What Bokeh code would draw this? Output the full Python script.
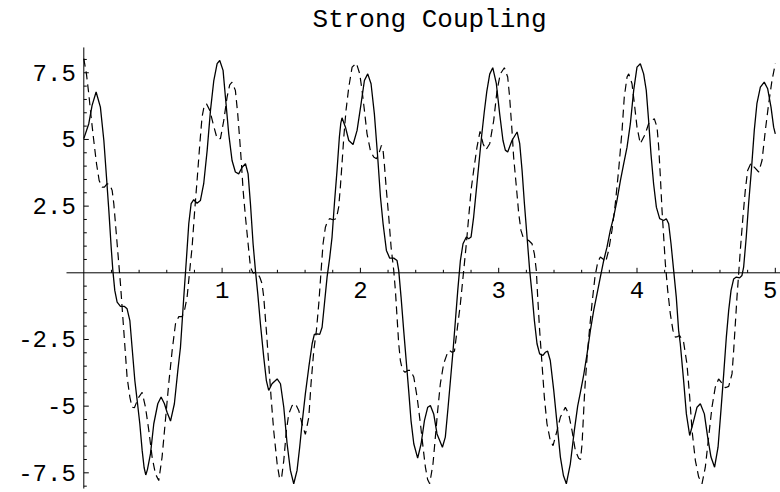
from bokeh.plotting import figure
from bokeh.models import Range1d, ColumnDataSource
from bokeh.core.properties import value
from bokeh.embed import file_html
from bokeh.resources import INLINE

# (t, amplitude) samples of the two coupled coordinates
solid_pts = [
    (0.000, 5.03), (0.036, 5.59), (0.060, 6.28), (0.089, 6.78), (0.120, 6.21), (0.145, 4.96),
    (0.164, 3.59), (0.181, 2.34), (0.198, 0.96), (0.210, 0.09), (0.224, -0.66), (0.241, -1.10),
    (0.265, -1.26), (0.294, -1.26), (0.313, -1.35), (0.333, -1.79), (0.349, -2.79), (0.369, -4.04),
    (0.386, -4.79), (0.405, -5.66), (0.422, -6.66), (0.436, -7.30), (0.448, -7.58), (0.460, -7.38),
    (0.482, -6.79), (0.506, -5.66), (0.535, -4.91), (0.559, -4.66), (0.583, -4.91), (0.602, -5.23),
    (0.627, -5.56), (0.655, -4.91), (0.680, -3.66), (0.699, -2.79), (0.723, -0.91), (0.743, 0.59),
    (0.759, 1.84), (0.776, 2.59), (0.795, 2.74), (0.819, 2.61), (0.843, 2.71), (0.867, 3.34),
    (0.892, 4.59), (0.916, 6.09), (0.940, 7.21), (0.964, 7.84), (0.983, 7.96), (1.007, 7.59),
    (1.024, 6.59), (1.048, 5.21), (1.072, 4.21), (1.096, 3.78), (1.120, 3.71), (1.145, 3.96),
    (1.169, 4.09), (1.188, 3.71), (1.205, 2.59), (1.224, 1.09), (1.241, 0.09), (1.258, -0.79),
    (1.277, -1.91), (1.301, -3.16), (1.320, -4.04), (1.337, -4.41), (1.361, -4.16), (1.398, -3.98),
    (1.422, -4.16), (1.446, -5.04), (1.470, -6.41), (1.494, -7.41), (1.518, -7.91), (1.542, -7.41),
    (1.561, -6.54), (1.578, -5.66), (1.602, -4.54), (1.627, -3.54), (1.651, -2.66), (1.667, -2.31),
    (1.687, -2.29), (1.706, -2.31), (1.723, -2.04), (1.740, -1.16), (1.759, -0.16), (1.778, 0.56),
    (1.795, 1.34), (1.812, 2.59), (1.831, 3.84), (1.848, 5.09), (1.858, 5.60), (1.867, 5.81),
    (1.892, 5.46), (1.916, 4.96), (1.947, 4.81), (1.976, 5.34), (2.005, 6.34), (2.029, 7.21),
    (2.053, 7.46), (2.077, 7.09), (2.101, 5.96), (2.125, 4.34), (2.145, 2.84), (2.164, 1.84),
    (2.188, 0.84), (2.212, 0.55), (2.241, 0.55), (2.265, 0.46), (2.277, 0.09), (2.294, -0.91),
    (2.313, -2.16), (2.333, -3.41), (2.349, -4.41), (2.366, -5.54), (2.386, -6.41), (2.414, -6.95),
    (2.439, -6.41), (2.463, -5.54), (2.487, -5.04), (2.506, -4.98), (2.530, -5.29), (2.554, -6.04),
    (2.593, -6.54), (2.614, -6.16), (2.634, -5.04), (2.651, -4.04), (2.670, -2.91), (2.687, -1.79),
    (2.704, -0.66), (2.723, 0.46), (2.742, 1.09), (2.766, 1.34), (2.783, 1.28), (2.800, 1.34),
    (2.819, 2.10), (2.838, 3.10), (2.857, 4.10), (2.876, 5.10), (2.895, 6.00), (2.914, 6.80),
    (2.935, 7.45), (2.957, 7.69), (2.983, 7.09), (3.007, 5.96), (3.031, 4.96), (3.048, 4.60),
    (3.065, 4.53), (3.096, 4.96), (3.133, 5.28), (3.152, 4.84), (3.169, 3.84), (3.186, 2.59),
    (3.205, 1.34), (3.224, 0.09), (3.241, -0.79), (3.258, -1.79), (3.277, -2.66), (3.296, -3.04),
    (3.320, -3.10), (3.337, -2.98), (3.354, -2.94), (3.373, -3.29), (3.398, -4.41), (3.422, -5.66),
    (3.446, -6.91), (3.468, -7.60), (3.489, -7.91), (3.518, -7.16), (3.547, -5.91), (3.571, -5.00),
    (3.590, -4.50), (3.614, -3.85), (3.639, -3.04), (3.663, -2.16), (3.687, -1.41), (3.711, -0.79),
    (3.735, -0.16), (3.759, 0.46), (3.783, 0.96), (3.807, 1.59), (3.831, 2.09), (3.855, 2.71),
    (3.880, 3.46), (3.904, 4.09), (3.928, 4.71), (3.952, 5.59), (3.976, 6.84), (4.000, 7.71),
    (4.024, 7.84), (4.048, 7.46), (4.067, 6.84), (4.084, 5.71), (4.101, 4.46), (4.120, 3.34),
    (4.140, 2.46), (4.164, 2.03), (4.193, 1.96), (4.212, 2.03), (4.229, 1.84), (4.246, 1.09),
    (4.265, 0.09), (4.284, -0.91), (4.301, -2.16), (4.313, -2.66), (4.337, -4.04), (4.357, -5.29),
    (4.381, -6.10), (4.410, -5.54), (4.434, -5.04), (4.458, -4.91), (4.487, -5.29), (4.511, -6.16),
    (4.535, -6.91), (4.561, -7.29), (4.586, -6.54), (4.607, -5.16), (4.627, -3.79), (4.646, -2.41),
    (4.663, -1.41), (4.680, -0.66), (4.699, -0.23), (4.718, -0.16), (4.742, -0.19), (4.759, -0.10),
    (4.771, 0.21), (4.790, 1.34), (4.807, 2.59), (4.827, 3.84), (4.848, 5.34), (4.867, 6.34),
    (4.892, 6.96), (4.920, 7.15), (4.945, 6.90), (4.969, 6.21), (4.988, 5.46), (5.000, 5.21),
]

dashed_pts = [
    (0.000, 8.03), (0.019, 7.46), (0.036, 6.71), (0.053, 5.84), (0.072, 4.96), (0.092, 4.09),
    (0.111, 3.46), (0.133, 3.21), (0.149, 3.21), (0.169, 3.34), (0.188, 3.31), (0.205, 3.09),
    (0.217, 2.59), (0.229, 1.84), (0.241, 1.09), (0.253, 0.34), (0.265, -0.41), (0.277, -1.29),
    (0.289, -2.16), (0.301, -3.04), (0.313, -3.91), (0.333, -4.66), (0.349, -5.04), (0.366, -5.06),
    (0.382, -4.85), (0.398, -4.66), (0.422, -4.48), (0.446, -5.04), (0.470, -5.91), (0.494, -6.91),
    (0.518, -7.54), (0.542, -7.79), (0.566, -6.91), (0.590, -5.54), (0.614, -4.16), (0.639, -2.91),
    (0.663, -1.91), (0.687, -1.64), (0.711, -1.64), (0.728, -1.41), (0.747, -0.91), (0.766, 0.09),
    (0.783, 0.96), (0.800, 2.21), (0.819, 3.46), (0.839, 4.84), (0.855, 5.84), (0.870, 6.25),
    (0.887, 6.34), (0.911, 6.09), (0.935, 5.59), (0.964, 5.03), (0.988, 5.03), (1.012, 5.71),
    (1.036, 6.59), (1.055, 7.05), (1.072, 7.15), (1.096, 6.84), (1.113, 5.96), (1.128, 4.96),
    (1.140, 4.09), (1.152, 3.09), (1.169, 2.09), (1.188, 1.09), (1.205, 0.21), (1.224, -0.01),
    (1.248, 0.03), (1.272, -0.16), (1.289, -0.41), (1.301, -0.91), (1.320, -2.16), (1.337, -3.41),
    (1.354, -4.66), (1.373, -5.91), (1.398, -7.16), (1.414, -7.66), (1.429, -7.73), (1.446, -7.04),
    (1.465, -5.91), (1.482, -5.29), (1.506, -4.98), (1.530, -4.91), (1.554, -5.16), (1.578, -5.66),
    (1.602, -6.06), (1.627, -5.41), (1.643, -4.16), (1.663, -2.91), (1.682, -2.16), (1.699, -1.16),
    (1.716, 0.09), (1.730, 1.09), (1.747, 1.71), (1.764, 1.96), (1.778, 2.03), (1.802, 1.99),
    (1.826, 2.03), (1.843, 2.46), (1.855, 3.21), (1.867, 4.09), (1.880, 5.09), (1.896, 6.09),
    (1.916, 6.96), (1.940, 7.71), (1.971, 7.86), (1.995, 7.46), (2.012, 6.84), (2.029, 6.09),
    (2.048, 5.21), (2.072, 4.59), (2.096, 4.34), (2.116, 4.28), (2.133, 4.46), (2.152, 4.78),
    (2.164, 4.59), (2.173, 4.09), (2.188, 3.09), (2.205, 2.09), (2.222, 0.96), (2.241, 0.09),
    (2.253, -0.66), (2.265, -1.66), (2.277, -2.66), (2.289, -3.29), (2.304, -3.64), (2.323, -3.73),
    (2.342, -3.66), (2.361, -3.66), (2.386, -3.91), (2.410, -4.66), (2.434, -5.66), (2.453, -6.54),
    (2.470, -7.29), (2.486, -7.75), (2.501, -7.91), (2.525, -7.16), (2.542, -6.16), (2.559, -5.16),
    (2.578, -4.16), (2.602, -3.41), (2.627, -3.04), (2.643, -2.91), (2.663, -2.98), (2.680, -2.94),
    (2.699, -2.16), (2.723, -1.16), (2.747, 0.09), (2.766, 1.09), (2.783, 2.09), (2.800, 3.09),
    (2.819, 3.84), (2.843, 4.71), (2.865, 5.30), (2.887, 4.84), (2.908, 4.61), (2.935, 4.84),
    (2.964, 5.71), (2.988, 6.84), (3.012, 7.46), (3.041, 7.69), (3.065, 7.34), (3.079, 6.59),
    (3.096, 5.34), (3.108, 4.34), (3.128, 3.21), (3.145, 2.21), (3.161, 1.59), (3.176, 1.34),
    (3.193, 1.28), (3.217, 1.21), (3.241, 1.09), (3.258, 0.71), (3.272, 0.09), (3.282, -0.91),
    (3.296, -2.16), (3.313, -3.41), (3.330, -4.66), (3.349, -5.66), (3.373, -6.29), (3.393, -6.48),
    (3.422, -5.91), (3.446, -5.41), (3.482, -5.04), (3.506, -5.29), (3.530, -5.91), (3.554, -6.66),
    (3.578, -6.95), (3.592, -7.00), (3.603, -6.40), (3.610, -5.66), (3.622, -4.41), (3.639, -3.16),
    (3.658, -2.04), (3.677, -1.04), (3.696, -0.16), (3.716, 0.40), (3.735, 0.59), (3.754, 0.52),
    (3.773, 0.40), (3.795, 0.84), (3.819, 1.59), (3.843, 2.59), (3.867, 3.84), (3.892, 5.34),
    (3.908, 6.59), (3.928, 7.34), (3.940, 7.46), (3.964, 7.09), (3.981, 6.34), (4.000, 5.46),
    (4.024, 4.84), (4.060, 5.21), (4.084, 5.59), (4.125, 5.78), (4.145, 5.46), (4.157, 4.71),
    (4.169, 3.59), (4.181, 2.34), (4.193, 1.34), (4.205, 0.34), (4.222, -0.66), (4.241, -1.54),
    (4.260, -2.16), (4.277, -2.41), (4.294, -2.39), (4.308, -2.35), (4.337, -2.60), (4.361, -3.41),
    (4.381, -4.66), (4.398, -5.91), (4.422, -7.04), (4.446, -7.66), (4.470, -7.91), (4.494, -7.29),
    (4.518, -6.16), (4.542, -5.04), (4.566, -4.29), (4.590, -3.98), (4.614, -4.14), (4.639, -4.31),
    (4.663, -4.26), (4.687, -3.79), (4.699, -2.91), (4.711, -1.91), (4.723, -0.91), (4.735, -0.04),
    (4.747, 0.84), (4.766, 2.09), (4.783, 3.09), (4.800, 3.84), (4.824, 4.11), (4.848, 3.96),
    (4.880, 3.78), (4.904, 4.21), (4.928, 5.34), (4.952, 6.34), (4.976, 7.21), (5.000, 7.84),
]

title_text = "Strong Coupling"

x_major = [1, 2, 3, 4, 5]
x_major_labels = ["1", "2", "3", "4", "5"]
x_minor = [round(0.2 * k, 1) for k in range(1, 26) if k % 5 != 0]

y_major = [-7.5, -5, -2.5, 2.5, 5, 7.5]
y_major_labels = ["-7.5", "-5", "-2.5", "2.5", "5", "7.5"]
y_minor = [round(0.5 * k, 1) for k in range(-16, 17) if k % 5 != 0 and k != 0]

# plot range of the axes (data units)
X_AXIS_SPAN = (-0.125, 5.035)
Y_AXIS_SPAN = (-8.09, 8.45)

# pixel scale of the frame, used to turn tick lengths into data units
PX_X = 138.3
PX_Y = 26.67
X0_PX = 83.3
Y0_PX = 272.3
W, H = 780, 492

solid_x = [pt[0] for pt in solid_pts]
solid_y = [pt[1] for pt in solid_pts]
dashed_x = [pt[0] for pt in dashed_pts]
dashed_y = [pt[1] for pt in dashed_pts]

p = figure(
    width=W, height=H,
    x_range=Range1d(-X0_PX / PX_X, (W - X0_PX) / PX_X),
    y_range=Range1d(-(H - Y0_PX) / PX_Y, Y0_PX / PX_Y),
    x_axis_type=None, y_axis_type=None,
    toolbar_location=None, output_backend="svg",
    title=None, min_border=0,
)
p.outline_line_color = None
p.background_fill_color = "white"
p.border_fill_color = "white"

font = value("Liberation Mono")

# axes through the origin
p.segment(x0=[X_AXIS_SPAN[0]], y0=[0], x1=[X_AXIS_SPAN[1]], y1=[0], line_color="black", line_width=1)
p.segment(x0=[0], y0=[Y_AXIS_SPAN[0]], x1=[0], y1=[Y_AXIS_SPAN[1]], line_color="black", line_width=1)

major_len, minor_len = 5.0, 3.0
p.segment(x0=x_major, y0=[0] * len(x_major), x1=x_major, y1=[major_len / PX_Y] * len(x_major),
          line_color="black", line_width=1)
p.segment(x0=x_minor, y0=[0] * len(x_minor), x1=x_minor, y1=[minor_len / PX_Y] * len(x_minor),
          line_color="black", line_width=1)
p.segment(x0=[0] * len(y_major), y0=y_major, x1=[major_len / PX_X] * len(y_major), y1=y_major,
          line_color="black", line_width=1)
p.segment(x0=[0] * len(y_minor), y0=y_minor, x1=[minor_len / PX_X] * len(y_minor), y1=y_minor,
          line_color="black", line_width=1)

# tick labels; the last one is nudged inward so it stays on the canvas
x_label_src = ColumnDataSource(dict(
    x=x_major, y=[0] * len(x_major), text=x_major_labels,
    dx=[0, 0, 0, 0, -5],
))
p.text(x="x", y="y", text="text", source=x_label_src, text_font=font,
       text_font_size=value("24px"), text_align="center", text_baseline="top",
       x_offset="dx", y_offset=9, text_color="black")
p.text(x=[0] * len(y_major), y=y_major, text=y_major_labels, text_font=font,
       text_font_size=value("24px"), text_align="right", text_baseline="middle",
       x_offset=-8, text_color="black")

# title
p.text(x=[2.5], y=[(Y0_PX - 19) / PX_Y], text=[title_text], text_font=font,
       text_font_size=value("26px"), text_align="center", text_baseline="alphabetic",
       text_color="black")

# the two coordinates
p.line(solid_x, solid_y, line_color="black", line_width=1.3)
p.line(dashed_x, dashed_y, line_color="black", line_width=1.2, line_dash="8 5")

open("out.html", "w").write(file_html(p, INLINE))
